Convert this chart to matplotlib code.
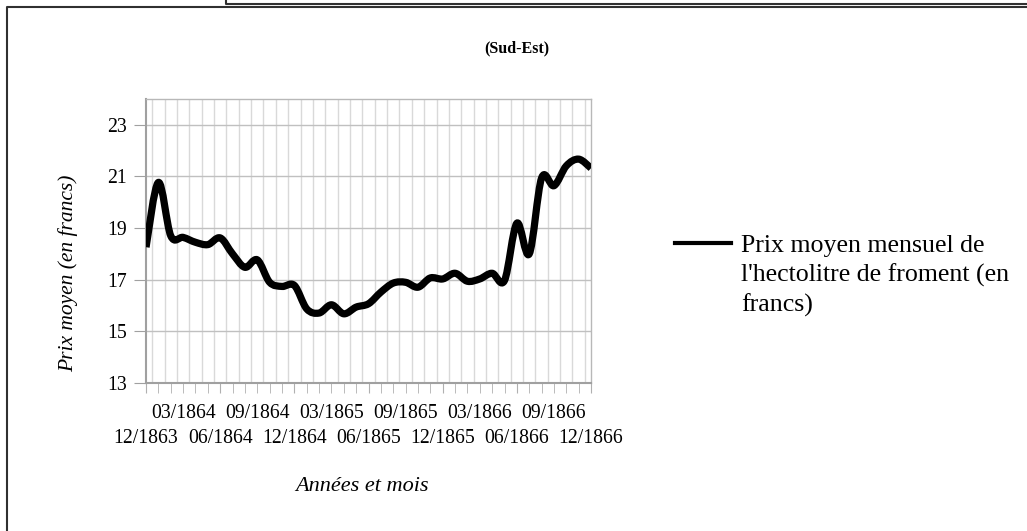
import numpy as np
import matplotlib.pyplot as plt
from matplotlib.path import Path
from matplotlib.patches import PathPatch
from matplotlib.lines import Line2D
from matplotlib.legend_handler import HandlerLine2D

plt.rcParams['font.family'] = ['Liberation Serif', 'DejaVu Serif']

# Prix moyen mensuel, 12/1863 -> 12/1866
mois = ["12/1863", "01/1864", "02/1864", "03/1864", "04/1864", "05/1864",
        "06/1864", "07/1864", "08/1864", "09/1864", "10/1864", "11/1864",
        "12/1864", "01/1865", "02/1865", "03/1865", "04/1865", "05/1865",
        "06/1865", "07/1865", "08/1865", "09/1865", "10/1865", "11/1865",
        "12/1865", "01/1866", "02/1866", "03/1866", "04/1866", "05/1866",
        "06/1866", "07/1866", "08/1866", "09/1866", "10/1866", "11/1866",
        "12/1866"]
prix = [18.26, 20.77, 18.70, 18.64, 18.45, 18.36, 18.62, 18.00, 17.48, 17.77,
        16.90, 16.74, 16.78, 15.87, 15.71, 16.03, 15.68, 15.94, 16.07, 16.52,
        16.87, 16.90, 16.71, 17.07, 17.03, 17.25, 16.94, 17.03, 17.25, 16.97,
        19.19, 18.00, 20.94, 20.64, 21.41, 21.67, 21.32]
yticks = [13, 15, 17, 19, 21, 23]
serie = "Prix moyen mensuel de\nl'hectolitre de froment (en\nfrancs)"


def smooth_path(xs, ys):
    # courbe lissée façon tableur : Bézier cubiques passant par chaque point
    pts = np.column_stack([xs, ys])
    n = len(pts)
    verts = [pts[0]]
    codes = [Path.MOVETO]
    for i in range(n - 1):
        p0 = pts[i - 1] if i > 0 else pts[i]
        p3 = pts[i + 2] if i + 2 < n else pts[i + 1]
        c1 = pts[i] + (pts[i + 1] - p0) / 6
        c2 = pts[i + 1] - (p3 - pts[i]) / 6
        verts += [c1, c2, pts[i + 1]]
        codes += [Path.CURVE4] * 3
    return Path(verts, codes)


class HandlerTop(HandlerLine2D):
    # remonte le trait de la légende au niveau de la première ligne du texte
    def __init__(self, shift, **kw):
        super().__init__(**kw)
        self.shift = shift

    def create_artists(self, legend, orig_handle, xdescent, ydescent,
                       width, height, fontsize, trans):
        arts = super().create_artists(legend, orig_handle, xdescent, ydescent,
                                      width, height, fontsize, trans)
        for a in arts:
            a.set_ydata(np.asarray(a.get_ydata()) + self.shift)
        return arts


fig = plt.figure(figsize=(10.27, 5.31), dpi=100)
ax = fig.add_axes([0.1422, 0.2787, 0.4333, 0.5349])

x = np.arange(len(prix))
ax.add_patch(PathPatch(smooth_path(x, prix), fill=False, lw=5.2,
                       edgecolor='black', capstyle='butt', joinstyle='round',
                       zorder=3))

ax.set_xlim(0, len(prix) - 1)
ax.set_ylim(13, 24)
ax.set_yticks(yticks)

# graduations : tous les 6 mois sur la 2e ligne, les autres mois sur la 1re
bas = x[x % 6 == 0]
haut = x[x % 6 != 0]
ax.set_xticks(bas)
ax.set_xticklabels([mois[i] for i in bas], fontsize=14.2)
ax.set_xticks(haut, minor=True)
ax.set_xticklabels([mois[i] if i % 3 == 0 else "" for i in haut],
                   minor=True, fontsize=14.2)
ax.tick_params(axis='x', which='both', length=7, color='#b0b0b0')
ax.tick_params(axis='x', which='major', pad=26)
ax.tick_params(axis='x', which='minor', pad=8)

# quadrillage vertical entre les mois
ax.vlines(x[:-1] + 0.5, 13, 24, color='#d9d9d9', lw=1, zorder=0.5)
ax.grid(True, which='major', axis='y', color='#c0c0c0', lw=1, zorder=0.6)
ax.set_axisbelow(True)
ax.tick_params(axis='y', length=9, color='#a0a0a0', pad=5, labelsize=14.2)

for side in ['left', 'bottom']:
    ax.spines[side].set_color('#a0a0a0')
    ax.spines[side].set_linewidth(1.5)
for side in ['top', 'right']:
    ax.spines[side].set_color('#b8b8b8')
    ax.spines[side].set_linewidth(1)

ax.set_ylabel("Prix moyen (en francs)", fontsize=15.5, style='italic')
ax.yaxis.set_label_coords(-0.153, 0.386)
ax.set_xlabel("Années et mois", fontsize=16, style='italic')
ax.xaxis.set_label_coords(0.485, -0.33)

fig.text(0.503, 0.908, "(Sud-Est)", fontsize=11.5, fontweight='bold',
         ha='center', va='center')

handle = Line2D([], [], color='black', lw=3)
leg = ax.legend([handle], [serie], loc='upper left',
                bbox_to_anchor=(0.657, 0.557), bbox_transform=fig.transFigure,
                frameon=False, fontsize=18.6, handlelength=2.17,
                handletextpad=0.39, borderpad=0, borderaxespad=0,
                handler_map={Line2D: HandlerTop(shift=23)})
leg.get_texts()[0].set_linespacing(1.35)

# cadre de la zone de graphique
fig.add_artist(Line2D([0.0068, 0.0068, 1.0], [0.0, 0.9868, 0.9868],
                      transform=fig.transFigure, color='#303030', lw=1.5))
fig.add_artist(Line2D([0.2200, 0.2200, 1.0], [1.0, 0.9925, 0.9925],
                      transform=fig.transFigure, color='#303030', lw=1.5))

fig.savefig("out.png", dpi=100)
